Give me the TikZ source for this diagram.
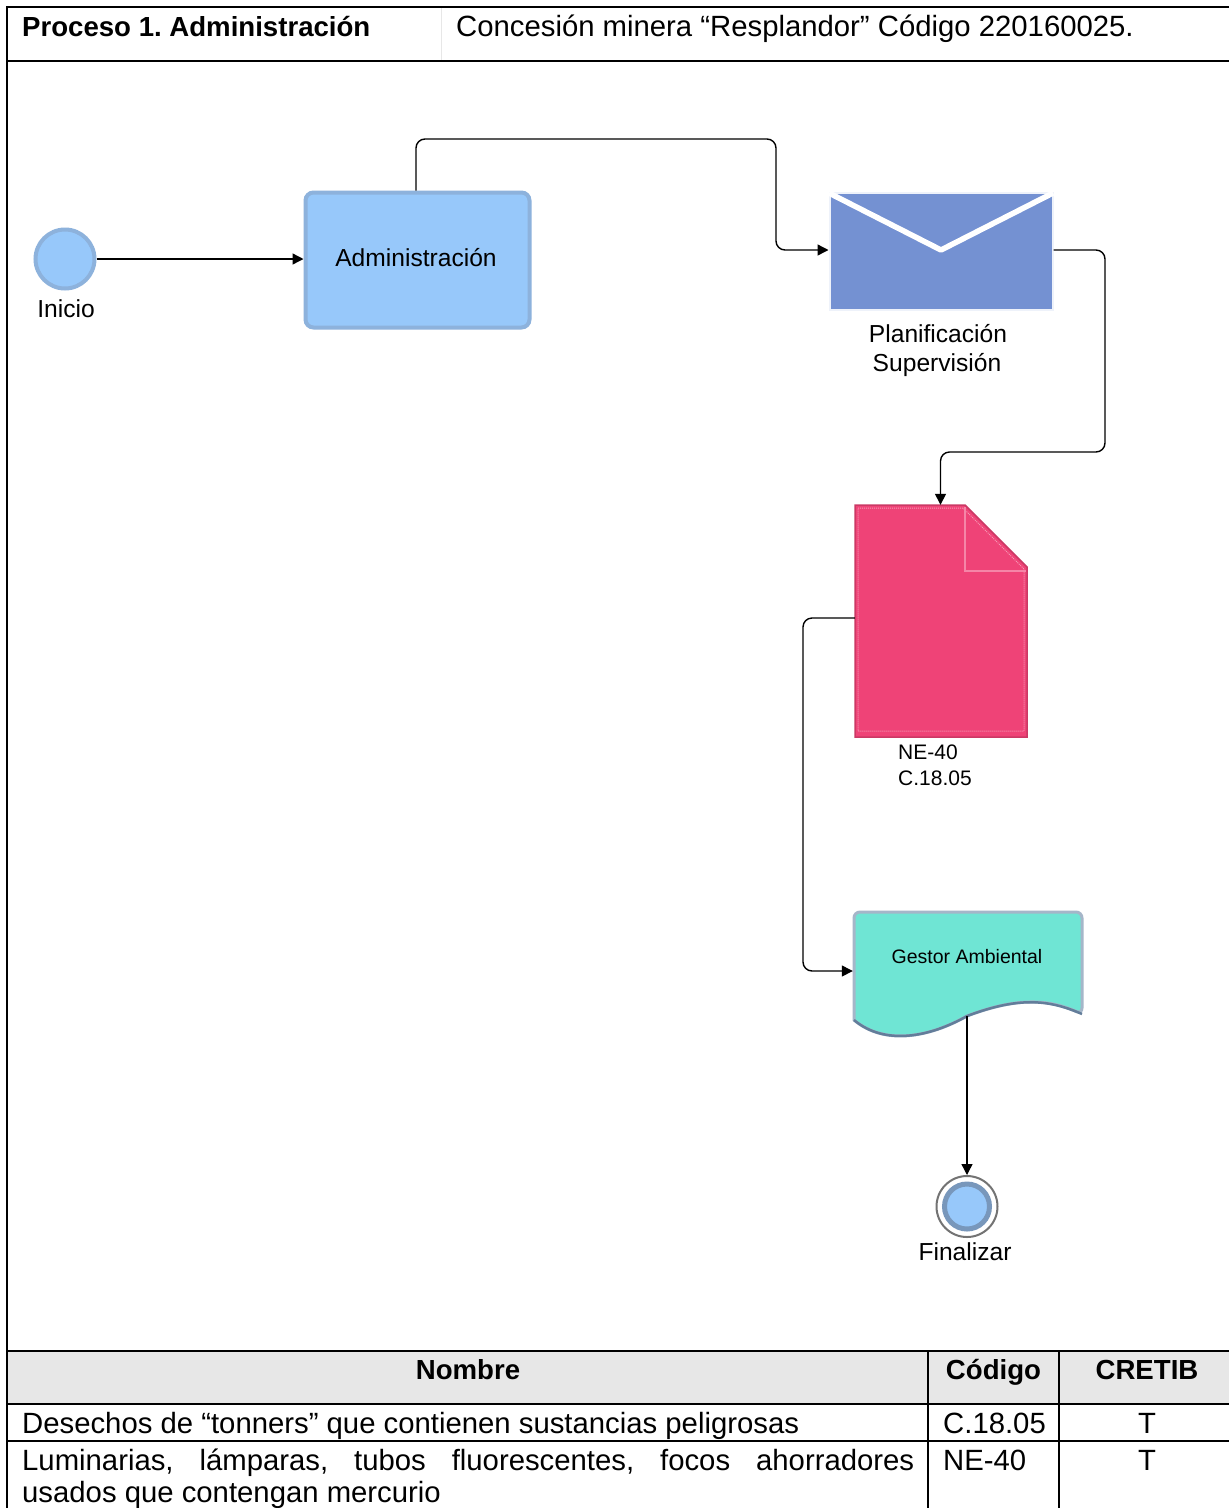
\documentclass[tikz,border=0pt]{standalone}
\usepackage{fontspec}
\setmainfont{Liberation Sans}
\frenchspacing
\usetikzlibrary{arrows.meta}
\definecolor{azul}{HTML}{97C8FA}
\definecolor{azulborde}{HTML}{8DB2DC}
\definecolor{sobre}{HTML}{7491D2}
\definecolor{rosa}{HTML}{EF4377}
\definecolor{turquesa}{HTML}{6FE5D4}
\definecolor{gris}{HTML}{E7E7E7}
\tikzset{
    flecha/.style={line width=1.4pt, rounded corners=9pt, arrows=-{Triangle[length=11pt,width=11pt]}},
    regla/.style={line width=1.8pt},
    etiqueta/.style={inner sep=0pt, anchor=base, font=\fontsize{24.6}{25}\selectfont},
    celda/.style={inner sep=0pt, anchor=base west, font=\fontsize{29.3}{35}\selectfont},
    titulo/.style={inner sep=0pt, anchor=base, font=\fontsize{27.6}{35}\selectfont\bfseries}
}
\begin{document}
\begin{tikzpicture}[x=1pt, y=-1pt]
    \useasboundingbox (0,0) rectangle (1229,1508);
    \fill[color=white] (0,0) rectangle (1229,1508);

    \fill[color=gris] (7,1351) rectangle (1229,1404);

    \foreach \y in {7,61,1351,1404} {
        \draw[regla] (6,\y) -- (1229,\y);
    }
    \draw[line width=1.2pt] (7,1441) -- (1229,1441);
    \draw[regla] (7,6) -- (7,1508);
    \draw[line width=1pt, color=gris] (441,8) -- (441,60);
    \foreach \x in {928,1059} {
        \draw[line width=1.1pt] (\x,1351) -- (\x,1508);
    }

    \node[titulo, anchor=base west] (proceso) at (22,36) {Proceso 1. Administración};
    \node[celda] (concesion) at (456,36) {Concesión minera “Resplandor” Código 220160025.};

    \node[circle, minimum size=59pt, inner sep=0pt, fill=azul, draw=azulborde, line width=4pt] (inicio) at (65,259) {};
    \node[etiqueta] (inicioTxt) at (66,317) {Inicio};

    \node[rectangle, rounded corners=8pt, minimum width=224pt, minimum height=135pt, fill=azul, draw=azulborde, line width=4pt] (admin) at (417.5,260) {};
    \node[etiqueta] (adminTxt) at (416,266) {Administración};

    \node[rectangle, minimum width=223pt, minimum height=117pt, fill=sobre, draw=sobre!12, line width=2pt] (correo) at (941,251.5) {};
    \draw[color=white, line width=5.5pt, line join=round] (829,193) -- (941,250) -- (1053,193);
    \node[etiqueta] (correoTxtA) at (938,342) {Planificación};
    \node[etiqueta] (correoTxtB) at (937,371) {Supervisión};

    \node[rectangle, minimum width=172pt, minimum height=232pt, inner sep=0pt] (hoja) at (941,621) {};
    \fill[color=rosa, draw=rosa!85!black, line width=1.5pt] (855,505) -- (965,505) -- (1027,567) -- (1027,737) -- (855,737) -- cycle;
    \draw[color=white!45!rosa, line width=1pt, densely dotted] (858,508) -- (963,508) -- (1024,569) -- (1024,731) -- (858,731) -- cycle;
    \draw[color=white!35!rosa, line width=1.2pt] (965,507) -- (965,571) -- (1026,571);
    \node[inner sep=0pt, anchor=base west, font=\fontsize{21}{22}\selectfont] (hojaTxtA) at (898,759) {NE-40};
    \node[inner sep=0pt, anchor=base west, font=\fontsize{21}{22}\selectfont] (hojaTxtB) at (898,785) {C.18.05};

    \node[rectangle, minimum width=230pt, minimum height=122pt, inner sep=0pt] (gestor) at (968,972) {};
    \fill[color=turquesa, draw=black!25!azulborde!60!white, line width=3pt, rounded corners=6pt] (854,1018) -- (854,912) -- (1082,912) -- (1082,1014) [sharp corners] .. controls (1050,1000) and (1020,996) .. (967,1016) .. controls (930,1037) and (885,1046) .. (854,1020) -- cycle;
    \draw[color=black!30!azulborde, line width=2.5pt] (1082,1014) .. controls (1050,1000) and (1020,996) .. (967,1016) .. controls (930,1037) and (885,1046) .. (854,1020);
    \node[inner sep=0pt, anchor=base, font=\fontsize{19.5}{20}\selectfont] (gestorTxt) at (967,963) {Gestor Ambiental};
    \coordinate (gestorSal) at (967,1016);

    \node[circle, minimum size=61pt, inner sep=0pt, fill=white, draw=black!55, line width=2pt] (fin) at (967,1206.5) {};
    \node[circle, minimum size=45pt, inner sep=0pt, fill=azul, draw=azulborde!85!black, line width=5pt] (finInt) at (967,1206.5) {};
    \node[etiqueta] (finTxt) at (965,1260) {Finalizar};

    \coordinate (a1) at (416,139);
    \coordinate (a2) at (776,139);
    \coordinate (a3) at (776,250);
    \coordinate (b1) at (1105,250);
    \coordinate (b2) at (1105,452);
    \coordinate (b3) at (940.5,452);
    \coordinate (c1) at (803,618);
    \coordinate (c2) at (803,971);

    \draw[flecha] (inicio.east) -- (inicio.east -| admin.west);
    \draw[flecha] ([xshift=-1.5pt]admin.north) -- (a1) -- (a2) -- (a3) -- (a3 -| correo.west);
    \draw[flecha] (b1 -| correo.east) -- (b1) -- (b2) -- (b3) -- (b3 |- hoja.north);
    \draw[flecha] (c1 -| hoja.west) -- (c1) -- (c2) -- (c2 -| gestor.west);
    \draw[flecha] (gestorSal) -- (fin.north);

    \node[titulo] (nombre) at (468,1379) {Nombre};
    \node[titulo] (codigo) at (993.5,1379) {Código};
    \node[titulo] (cretib) at (1147,1379) {CRETIB};
    \node[celda] (filaA) at (22,1433) {Desechos de “tonners” que contienen sustancias peligrosas};
    \node[celda] (codA) at (943,1433) {C.18.05};
    \node[celda, anchor=base] (tipoA) at (1147,1433) {T};
    \node[inner sep=0pt, anchor=north west, text width=892pt, align=justify, font=\fontsize{29.3}{31.5}\selectfont] (filaB) at (22,1449) {Luminarias, lámparas, tubos fluorescentes, focos ahorradores\linebreak usados que contengan mercurio};
    \node[celda] (codB) at (943,1470) {NE-40};
    \node[celda, anchor=base] (tipoB) at (1147,1470) {T};
\end{tikzpicture}
\end{document}
